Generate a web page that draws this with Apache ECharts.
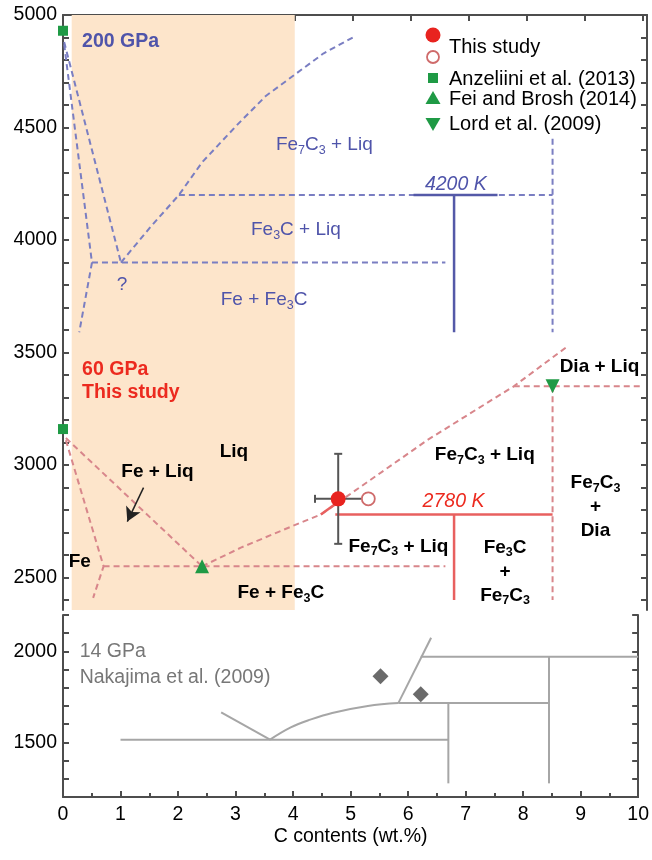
<!DOCTYPE html>
<html><head><meta charset="utf-8">
<script src="https://cdn.jsdelivr.net/npm/echarts@6/dist/echarts.min.js"></script>
<style>html,body{margin:0;padding:0;background:#fff}#c{width:652px;height:860px}</style>
</head><body><div id="c"></div>
<script>
// ================= DATA =================
const xTickValues = [0,1,2,3,4,5,6,7,8,9,10];
const upperYLabelValues = [2500,3000,3500,4000,4500,5000];
const upperYTickValues = [2400,2500,2600,2700,2800,2900,3000,3100,3200,3300,3400,3500,3600,3700,3800,3900,4000,4100,4200,4300,4400,4500,4600,4700,4800,4900,5000];
const lowerYLabelValues = [1500,2000];
const bandX = [0.15, 4.0];

// 200 GPa phase boundaries (blue)
const b200_liqFeA = [[0.02,4880],[1.0,3900]];
const b200_liqFeB = [[0.02,4870],[0.5,3900],[0.28,3590]];
const b200_liqC = [[1.0,3900],[1.5,4055],[2.0,4200],[2.4,4345],[3.0,4510],[3.5,4640],[4.0,4735],[4.5,4830],[5.0,4900]];
const b200_iso4200 = [[2.0,4200],[8.45,4200]];
const b200_iso3900 = [[0.5,3900],[6.6,3900]];
const b200_vFe7C3 = [[8.45,4450],[8.45,3590]];
const b200_solidH = [[6.05,4200],[7.5,4200]];
const b200_solidV = [[6.75,4200],[6.75,3590]];

// 60 GPa phase boundaries (red)
const r60_liqFe = [[0.05,3120],[2.4,2550]];
const r60_solFe = [[0.05,3110],[0.7,2550],[0.52,2410]];
const r60_iso2550 = [[0.7,2550],[6.6,2550]];
const r60_liqC = [[2.4,2550],[3.07,2633],[4.1,2744],[4.45,2780],[6.3,3113],[7.78,3350],[8.7,3526]];
const r60_liqCsolid = [[4.45,2780],[4.75,2836]];
const r60_iso3350 = [[7.78,3350],[10,3350]];
const r60_vFe7C3 = [[8.45,3350],[8.45,2400]];
const r60_solidH = [[4.7,2780],[8.45,2780]];
const r60_solidV = [[6.75,2780],[6.75,2400]];

// experimental points
const thisStudy = [[4.75,2850]];
const thisStudyErr = [[0.4,200]];
const thisStudyOpen = [[5.27,2850]];
const anzellini = [[0,4930],[0,3160]];
const feiBrosh = [[2.4,2550]];
const lord = [[8.45,3350]];

// 14 GPa (Nakajima et al. 2009) grey
const n14_iso1515 = [[1.0,1515],[6.7,1515]];
const n14_liqFe = [[2.75,1665],[3.6,1515]];
const n14_liqC = [[3.6,1515],[3.96,1582],[4.3,1625],[4.68,1662],[5.3,1700],[5.83,1716]];
const n14_slant = [[5.83,1716],[6.4,2075]];
const n14_iso1716 = [[5.83,1716],[8.45,1716]];
const n14_iso1971 = [[6.22,1971],[10,1971]];
const n14_v67 = [[6.7,1716],[6.7,1275]];
const n14_v845 = [[8.45,1971],[8.45,1275]];
const nakajimaPts = [[5.52,1864],[6.22,1765]];

// text annotations (data coordinates)
const blueLabels = [
  {t:'Fe_7C_3 + Liq', x:4.51, y:4423},
  {t:'Fe_3C + Liq', x:4.02, y:4045},
  {t:'?', x:1.02, y:3801},
  {t:'Fe + Fe_3C', x:3.47, y:3734}
];
const blackLabels = [
  {t:'Liq', x:2.95, y:3060},
  {t:'Fe + Liq', x:1.63, y:2971},
  {t:'Fe', x:0.29, y:2571},
  {t:'Fe + Fe_3C', x:3.76, y:2433},
  {t:'Fe_7C_3 + Liq', x:7.28, y:3046},
  {t:'Fe_7C_3 + Liq', x:5.79, y:2638},
  {t:'Fe_3C\n+\nFe_7C_3', x:7.63, y:2527},
  {t:'Fe_7C_3\n+\nDia', x:9.19, y:2815},
  {t:'Dia + Liq', x:9.26, y:3437}
];
const arrowFrom = [1.39, 2900];
const arrowTo = [1.11, 2749];

// ================= STYLE =================
const FONT = '"Liberation Sans", Arial, Helvetica, sans-serif';
const AX = '#4d4d4d';
const BLUE_D = '#7a7ec2', BLUE_S = '#5459a8', BLUE_T = '#4f54aa';
const RED_D = '#d8868b', RED_S = '#e8605f', RED_T = '#ec2a1f';
const GREEN = '#1f9a45';
const GREY = '#a6a6a6';
const BAND = '#fde5cb';

function toRich(text, m, s) {
  return text.split('\n').map(line => line.split(/(_\d)/).filter(p => p.length)
    .map(p => p[0] === '_' ? '{' + s + '|' + p.slice(1) + '}' : '{' + m + '|' + p + '}').join('')).join('\n');
}
const rich = {
  bm: {fontFamily: FONT, fontSize: 19, fontWeight: 'bold', color: '#000', lineHeight: 24},
  bs: {fontFamily: FONT, fontSize: 12.5, fontWeight: 'bold', color: '#000', lineHeight: 13, verticalAlign: 'bottom'},
  um: {fontFamily: FONT, fontSize: 19, color: BLUE_T, lineHeight: 24},
  us: {fontFamily: FONT, fontSize: 12.5, color: BLUE_T, lineHeight: 13, verticalAlign: 'bottom'}
};

function line(data, color, width, dashed, xi, z) {
  return {type: 'line', xAxisIndex: xi || 0, yAxisIndex: xi ? 2 : 0, data: data, symbol: 'none', silent: true,
    smooth: false, z: z || 2, animation: false,
    lineStyle: {color: color, width: width, type: dashed ? [6, 4] : 'solid', cap: 'butt'}};
}
function labelSeries(items, m, s) {
  return {type: 'scatter', xAxisIndex: 0, yAxisIndex: 0, symbolSize: 0, silent: true, z: 8, animation: false,
    itemStyle: {opacity: 1},
    data: items.map(d => ({value: [d.x, d.y], label: {formatter: toRich(d.t, m, s)}})),
    label: {show: true, position: [0, 0], align: 'center', verticalAlign: 'middle', rich: rich}};
}

const series = [
  // band
  {type: 'line', xAxisIndex: 0, yAxisIndex: 0, data: [[bandX[0], 5000]], symbol: 'none', z: 0, silent: true, animation: false,
   markArea: {silent: true, itemStyle: {color: BAND, opacity: 1}, data: [[{coord: [bandX[0], 5000]}, {coord: [bandX[1], 2356]}]]}},
  line(b200_liqFeA, BLUE_D, 2, true), line(b200_liqFeB, BLUE_D, 2, true), line(b200_liqC, BLUE_D, 2, true),
  line(b200_iso4200, BLUE_D, 2, true), line(b200_iso3900, BLUE_D, 2, true), line(b200_vFe7C3, BLUE_D, 2, true),
  line(b200_solidH, BLUE_S, 2.5, false, 0, 3), line(b200_solidV, BLUE_S, 2.5, false, 0, 3),
  line(r60_liqFe, RED_D, 2, true), line(r60_solFe, RED_D, 2, true), line(r60_iso2550, RED_D, 2, true),
  line(r60_liqC, RED_D, 2, true), line(r60_iso3350, RED_D, 2, true), line(r60_vFe7C3, RED_D, 2, true),
  line(r60_liqCsolid, RED_S, 2.5, false, 0, 3),
  line(r60_solidH, RED_S, 2.5, false, 0, 3), line(r60_solidV, RED_S, 2.5, false, 0, 3),
  // arrow
  {type: 'line', xAxisIndex: 0, yAxisIndex: 0, data: [], z: 6, silent: true, animation: false,
   markLine: {silent: true, symbol: ['none', 'arrow'], symbolSize: [12, 14], label: {show: false},
     lineStyle: {color: '#222', width: 1.5, type: 'solid', opacity: 1},
     data: [[{coord: arrowFrom}, {coord: arrowTo}]]}},
  // error bars
  {type: 'custom', xAxisIndex: 0, yAxisIndex: 0, z: 5, silent: true, animation: false,
   data: thisStudy.map((p, i) => [p[0], p[1], thisStudyErr[i][0], thisStudyErr[i][1]]),
   renderItem: function (params, api) {
     const x = api.value(0), y = api.value(1), ex = api.value(2), ey = api.value(3);
     const l = api.coord([x - ex, y]), r = api.coord([x + ex, y]), t = api.coord([x, y + ey]), b = api.coord([x, y - ey]);
     const st = {stroke: '#555', lineWidth: 2};
     const c = 4;
     return {type: 'group', children: [
       {type: 'line', shape: {x1: l[0], y1: l[1], x2: r[0], y2: r[1]}, style: st},
       {type: 'line', shape: {x1: t[0], y1: t[1], x2: b[0], y2: b[1]}, style: st},
       {type: 'line', shape: {x1: l[0], y1: l[1] - c, x2: l[0], y2: l[1] + c}, style: st},
       {type: 'line', shape: {x1: t[0] - c, y1: t[1], x2: t[0] + c, y2: t[1]}, style: st},
       {type: 'line', shape: {x1: b[0] - c, y1: b[1], x2: b[0] + c, y2: b[1]}, style: st}
     ]};
   }},
  {type: 'scatter', xAxisIndex: 0, yAxisIndex: 0, data: thisStudyOpen, symbol: 'circle', symbolSize: 13, z: 6, animation: false,
   itemStyle: {color: '#fff', borderColor: '#cf6b6b', borderWidth: 1.8, opacity: 1}},
  {type: 'scatter', xAxisIndex: 0, yAxisIndex: 0, data: thisStudy, symbol: 'circle', symbolSize: 15, z: 7, animation: false,
   itemStyle: {color: '#e8231f', opacity: 1}},
  {type: 'scatter', xAxisIndex: 0, yAxisIndex: 0, data: anzellini, symbol: 'rect', symbolSize: 10, z: 7, animation: false, clip: false,
   itemStyle: {color: GREEN, opacity: 1}},
  {type: 'scatter', xAxisIndex: 0, yAxisIndex: 0, data: feiBrosh, symbol: 'triangle', symbolSize: 14, z: 7, animation: false,
   itemStyle: {color: GREEN, opacity: 1}},
  {type: 'scatter', xAxisIndex: 0, yAxisIndex: 0, data: lord, symbol: 'triangle', symbolRotate: 180, symbolSize: 14, z: 7, animation: false,
   itemStyle: {color: GREEN, opacity: 1}},
  labelSeries(blueLabels, 'um', 'us'),
  labelSeries(blackLabels, 'bm', 'bs'),
  // single-style labels
  {type: 'scatter', xAxisIndex: 0, yAxisIndex: 0, symbolSize: 0, silent: true, z: 8, animation: false,
   itemStyle: {opacity: 1},
   data: [
     {value: [0.33, 4880], label: {formatter: '200 GPa', color: BLUE_T, fontWeight: 'bold', align: 'left'}},
     {value: [0.33, 3373], label: {formatter: '60 GPa\nThis study', color: RED_T, fontWeight: 'bold', align: 'left', lineHeight: 23}},
     {value: [6.78, 4245], label: {formatter: '4200 K', color: BLUE_T, fontStyle: 'italic', align: 'center'}},
     {value: [6.74, 2837], label: {formatter: '2780 K', color: RED_T, fontStyle: 'italic', align: 'center'}}
   ],
   label: {show: true, position: [0, 0], verticalAlign: 'middle', fontFamily: FONT, fontSize: 19.5}},
  // lower panel
  line(n14_iso1515, GREY, 2, false, 1), line(n14_liqFe, GREY, 2, false, 1),
  Object.assign(line(n14_liqC, GREY, 2, false, 1), {smooth: 0.4}),
  line(n14_slant, GREY, 2, false, 1), line(n14_iso1716, GREY, 2, false, 1), line(n14_iso1971, GREY, 2, false, 1),
  line(n14_v67, GREY, 2, false, 1), line(n14_v845, GREY, 2, false, 1),
  {type: 'scatter', xAxisIndex: 1, yAxisIndex: 2, data: nakajimaPts, symbol: 'diamond', symbolSize: 16, z: 6, animation: false,
   itemStyle: {color: '#6a6a6a', opacity: 1}},
  {type: 'scatter', xAxisIndex: 1, yAxisIndex: 2, symbolSize: 0, silent: true, z: 8, animation: false,
   itemStyle: {opacity: 1},
   data: [{value: [0.29, 1928], label: {formatter: '14 GPa\nNakajima et al. (2009)'}}],
   label: {show: true, position: [0, 0], align: 'left', verticalAlign: 'middle', fontFamily: FONT, fontSize: 19.5, color: '#777', lineHeight: 26}}
];

const axLine = {show: true, lineStyle: {color: AX, width: 2}};
const plain = v => String(v);
const option = {
  animation: false,
  backgroundColor: '#fff',
  grid: [
    {left: 63, top: 15, width: 584, height: 595},
    {left: 63, top: 615, width: 580, height: 182}
  ],
  xAxis: [
    {type: 'value', gridIndex: 0, min: 0, max: 10.08, interval: 1, position: 'top',
     axisLine: axLine, axisTick: {inside: true, length: 6, lineStyle: {color: AX, width: 2}},
     axisLabel: {show: false}, splitLine: {show: false}},
    {type: 'value', gridIndex: 1, min: 0, max: 10, interval: 1, position: 'bottom',
     axisLine: axLine, axisTick: {inside: true, length: 6, lineStyle: {color: AX, width: 2}},
     minorTick: {show: true, splitNumber: 2, length: 4, lineStyle: {color: AX, width: 2}},
     axisLabel: {fontFamily: FONT, fontSize: 19.5, color: '#000', margin: 8, formatter: plain},
     splitLine: {show: false},
     name: 'C contents (wt.%)', nameLocation: 'middle', nameGap: 30,
     nameTextStyle: {fontFamily: FONT, fontSize: 19.5, color: '#000'}}
  ],
  yAxis: [
    {type: 'value', gridIndex: 0, min: 2356, max: 5000, position: 'left',
     axisLine: axLine,
     axisTick: {inside: true, length: 6, customValues: upperYTickValues, lineStyle: {color: AX, width: 2}},
     axisLabel: {customValues: upperYLabelValues, fontFamily: FONT, fontSize: 19.5, color: '#000', margin: 6, formatter: plain},
     splitLine: {show: false}},
    {type: 'value', gridIndex: 0, min: 2356, max: 5000, position: 'right',
     axisLine: axLine,
     axisTick: {inside: true, length: 6, customValues: upperYTickValues, lineStyle: {color: AX, width: 2}},
     axisLabel: {show: false}, splitLine: {show: false}},
    {type: 'value', gridIndex: 1, min: 1200, max: 2200, interval: 100, position: 'left',
     axisLine: axLine, axisTick: {inside: true, length: 6, lineStyle: {color: AX, width: 2}},
     axisLabel: {fontFamily: FONT, fontSize: 19.5, color: '#000', margin: 6,
       formatter: v => lowerYLabelValues.indexOf(v) >= 0 ? String(v) : ''},
     splitLine: {show: false}},
    {type: 'value', gridIndex: 1, min: 1200, max: 2200, interval: 100, position: 'right',
     axisLine: axLine, axisTick: {inside: true, length: 6, lineStyle: {color: AX, width: 2}},
     axisLabel: {show: false}, splitLine: {show: false}}
  ],
  graphic: [
    {type: 'circle', shape: {cx: 433, cy: 35, r: 7.5}, style: {fill: '#e8231f'}},
    {type: 'circle', shape: {cx: 433, cy: 57, r: 6}, style: {fill: '#fff', stroke: '#cf6b6b', lineWidth: 1.8}},
    {type: 'rect', shape: {x: 428, y: 73, width: 10, height: 10}, style: {fill: GREEN}},
    {type: 'polygon', shape: {points: [[433, 91], [440.5, 104], [425.5, 104]]}, style: {fill: GREEN}},
    {type: 'polygon', shape: {points: [[425.5, 118], [440.5, 118], [433, 131]]}, style: {fill: GREEN}},
    {type: 'text', x: 449, y: 47, style: {text: 'This study', fontFamily: FONT, fontSize: 20, fill: '#000', verticalAlign: 'middle'}},
    {type: 'text', x: 449, y: 79, style: {text: 'Anzeliini et al. (2013)', fontFamily: FONT, fontSize: 20, fill: '#000', verticalAlign: 'middle'}},
    {type: 'text', x: 449, y: 99, style: {text: 'Fei and Brosh (2014)', fontFamily: FONT, fontSize: 20, fill: '#000', verticalAlign: 'middle'}},
    {type: 'text', x: 449, y: 124, style: {text: 'Lord et al. (2009)', fontFamily: FONT, fontSize: 20, fill: '#000', verticalAlign: 'middle'}}
  ],
  series: series
};
const chart = echarts.init(document.getElementById('c'), null, {renderer: 'canvas'});
chart.setOption(option);
</script>
</body></html>
